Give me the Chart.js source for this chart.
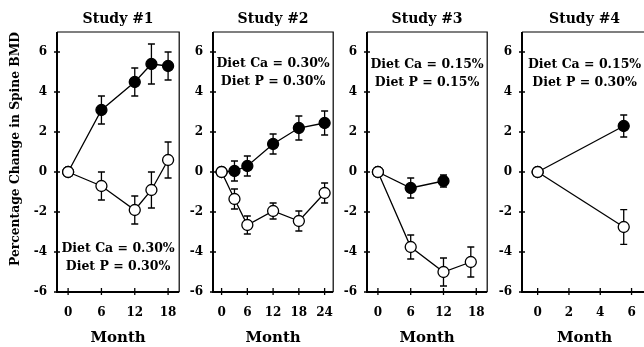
<!DOCTYPE html>
<html>
<head>
<meta charset="utf-8">
<script src="https://cdn.jsdelivr.net/npm/chart.js@4.4.0/dist/chart.umd.min.js"></script>
<style>
    html, body { margin: 0; padding: 0; background: #fff; overflow: hidden; width: 644px; height: 347px; }
    canvas { position: absolute; top: 0; }
</style>
</head>
<body>
<canvas id="c1" width="186" height="347" style="left:0px"></canvas>
<canvas id="c2" width="154" height="347" style="left:186px"></canvas>
<canvas id="c3" width="154" height="347" style="left:340px"></canvas>
<canvas id="c4" width="160" height="347" style="left:494px"></canvas>
<script>
// values (percent change in spine BMD)
const yTicks = [-6, -4, -2, 0, 2, 4, 6]

const months1 = [0, 6, 12, 15, 18]
const filled1 = [0, 3.1, 4.5, 5.4, 5.3]
const filledErr1 = [0, 0.7, 0.7, 1.0, 0.7]
const open1 = [0, -0.7, -1.9, -0.9, 0.6]
const openErr1 = [0, 0.7, 0.7, 0.9, 0.9]

const months2 = [0, 3, 6, 12, 18, 24]
const filled2 = [0, 0.05, 0.3, 1.4, 2.2, 2.45]
const filledErr2 = [0, 0.5, 0.5, 0.5, 0.6, 0.6]
const open2 = [0, -1.35, -2.65, -1.95, -2.45, -1.05]
const openErr2 = [0, 0.5, 0.45, 0.4, 0.5, 0.5]

const months3Filled = [0, 6, 12]
const filled3 = [0, -0.8, -0.45]
const filledErr3 = [0, 0.5, 0.3]
const months3Open = [0, 6, 12, 17]
const open3 = [0, -3.75, -5.0, -4.5]
const openErr3 = [0, 0.6, 0.7, 0.75]

const months4 = [0, 5.5]
const filled4 = [0, 2.3]
const filledErr4 = [0, 0.55]
const open4 = [0, -2.75]
const openErr4 = [0, 0.87]

const studyTitles = ['Study #1', 'Study #2', 'Study #3', 'Study #4']
const dietLabels = [
    ['Diet Ca = 0.30%', 'Diet P = 0.30%'],
    ['Diet Ca = 0.30%', 'Diet P = 0.30%'],
    ['Diet Ca = 0.15%', 'Diet P = 0.15%'],
    ['Diet Ca = 0.15%', 'Diet P = 0.30%'],
]
const xTicks = [[0, 6, 12, 18], [0, 6, 12, 18, 24], [0, 6, 12, 18], [0, 2, 4, 6]]

;(() => {
    const FONT = '"DejaVu Serif", serif'

    const toPoints = (xs, ys) => xs.map((x, i) => ({ x: x, y: ys[i] }))

    const panelDecor = {
        id: 'panelDecor',
        beforeDatasetsDraw(chart, args, opts) {
            const ctx = chart.ctx
            const { left, right, top, bottom } = chart.chartArea
            const xs = chart.scales.x
            const ys = chart.scales.y

            ctx.save()
            ctx.strokeStyle = '#000'
            // frame
            ctx.lineWidth = 1.2
            ctx.beginPath()
            ctx.moveTo(left, top)
            ctx.lineTo(right, top)
            ctx.lineTo(right, bottom)
            ctx.stroke()
            ctx.lineWidth = 2
            ctx.beginPath()
            ctx.moveTo(left, top)
            ctx.lineTo(left, bottom)
            ctx.lineTo(right, bottom)
            ctx.stroke()

            // tick marks crossing the axes
            ctx.lineWidth = 1.3
            ctx.beginPath()
            ys.ticks.forEach((t) => {
                const py = ys.getPixelForValue(t.value)
                ctx.moveTo(left - 3, py)
                ctx.lineTo(left + 3, py)
            })
            xs.ticks.forEach((t) => {
                const px = xs.getPixelForValue(t.value)
                ctx.moveTo(px, bottom - 4)
                ctx.lineTo(px, bottom + 3)
            })
            ctx.stroke()

            // error bars
            ctx.lineWidth = 1.3
            chart.data.datasets.forEach((ds) => {
                ds.data.forEach((p, i) => {
                    const e = ds.errors[i]
                    if (!e) return
                    const px = xs.getPixelForValue(p.x)
                    const hi = ys.getPixelForValue(p.y + e)
                    const lo = ys.getPixelForValue(p.y - e)
                    ctx.beginPath()
                    ctx.moveTo(px, hi)
                    ctx.lineTo(px, lo)
                    ctx.moveTo(px - 3.5, hi)
                    ctx.lineTo(px + 3.5, hi)
                    ctx.moveTo(px - 3.5, lo)
                    ctx.lineTo(px + 3.5, lo)
                    ctx.stroke()
                })
            })
            ctx.restore()
        },
        afterDraw(chart, args, opts) {
            const ctx = chart.ctx
            const { left, right, top } = chart.chartArea
            const cx = (left + right) / 2
            ctx.save()
            ctx.fillStyle = '#000'
            ctx.textAlign = 'center'
            ctx.textBaseline = 'middle'
            ctx.font = 'bold 14px ' + FONT
            ctx.fillText(opts.title, cx, 19)
            ctx.font = 'bold 12.5px ' + FONT
            opts.lines.forEach((line, i) => {
                ctx.fillText(line, cx, top + opts.textTop + i * 17.5)
            })
            ctx.restore()
        },
    }

    const makePanel = (id, idx, opts) => {
        const datasets = [
            {
                data: opts.openPts,
                errors: opts.openErr,
                borderColor: '#000',
                backgroundColor: '#fff',
                pointBackgroundColor: '#fff',
                pointBorderColor: '#000',
                order: 0,
            },
            {
                data: opts.filledPts,
                errors: opts.filledErr,
                borderColor: '#000',
                backgroundColor: '#000',
                pointBackgroundColor: '#000',
                pointBorderColor: '#000',
                order: 1,
            },
        ]
        datasets.forEach((ds) => {
            ds.borderWidth = 1.3
            ds.pointRadius = 5.5
            ds.pointBorderWidth = 1.3
            ds.tension = 0
            ds.fill = false
        })

        return new Chart(document.getElementById(id), {
            type: 'line',
            data: { datasets: datasets },
            options: {
                responsive: false,
                animation: false,
                devicePixelRatio: 1,
                layout: { padding: { top: 32, right: opts.padRight, left: 0, bottom: 0 } },
                plugins: {
                    legend: { display: false },
                    tooltip: { enabled: false },
                    title: { display: false },
                    panelDecor: { title: studyTitles[idx], lines: dietLabels[idx], textTop: opts.textTop },
                },
                scales: {
                    x: {
                        type: 'linear',
                        min: opts.xMin,
                        max: opts.xMax,
                        grid: { display: false },
                        border: { display: false },
                        afterBuildTicks: (s) => {
                            s.ticks = xTicks[idx].map((v) => ({ value: v }))
                        },
                        afterFit: (s) => {
                            s.height = 55
                        },
                        ticks: {
                            padding: 6,
                            color: '#000',
                            font: { family: FONT, size: 12, weight: 'bold' },
                            callback: (v) => String(v),
                            maxRotation: 0,
                        },
                        title: {
                            display: true,
                            text: 'Month',
                            color: '#000',
                            font: { family: FONT, size: 15, weight: 'bold' },
                            padding: { top: 0, bottom: 0 },
                        },
                    },
                    y: {
                        min: -6,
                        max: 7,
                        grid: { display: false },
                        border: { display: false },
                        afterBuildTicks: (s) => {
                            s.ticks = yTicks.map((v) => ({ value: v }))
                        },
                        afterFit: (s) => {
                            s.width = opts.yWidth
                        },
                        ticks: {
                            padding: 2,
                            color: '#000',
                            font: { family: FONT, size: 12, weight: 'bold' },
                            callback: (v) => String(v),
                        },
                        title: {
                            display: idx === 0,
                            text: 'Percentage Change in Spine BMD',
                            align: 'end',
                            color: '#000',
                            font: { family: FONT, size: 12.3, weight: 'bold' },
                            padding: { top: 8, bottom: 0 },
                        },
                    },
                },
            },
            plugins: [panelDecor],
        })
    }

    makePanel('c1', 0, {
        filledPts: toPoints(months1, filled1), filledErr: filledErr1,
        openPts: toPoints(months1, open1), openErr: openErr1,
        xMin: -2, xMax: 20, yWidth: 57, padRight: 4, textTop: 217,
    })
    makePanel('c2', 1, {
        filledPts: toPoints(months2, filled2), filledErr: filledErr2,
        openPts: toPoints(months2, open2), openErr: openErr2,
        xMin: -2, xMax: 26, yWidth: 27, padRight: 4, textTop: 32,
    })
    makePanel('c3', 2, {
        filledPts: toPoints(months3Filled, filled3), filledErr: filledErr3,
        openPts: toPoints(months3Open, open3), openErr: openErr3,
        xMin: -2, xMax: 20, yWidth: 27, padRight: 4, textTop: 33,
    })
    makePanel('c4', 3, {
        filledPts: toPoints(months4, filled4), filledErr: filledErr4,
        openPts: toPoints(months4, open4), openErr: openErr4,
        xMin: -1, xMax: 7, yWidth: 28, padRight: 6, textTop: 33,
    })
})()
</script>
</body>
</html>
